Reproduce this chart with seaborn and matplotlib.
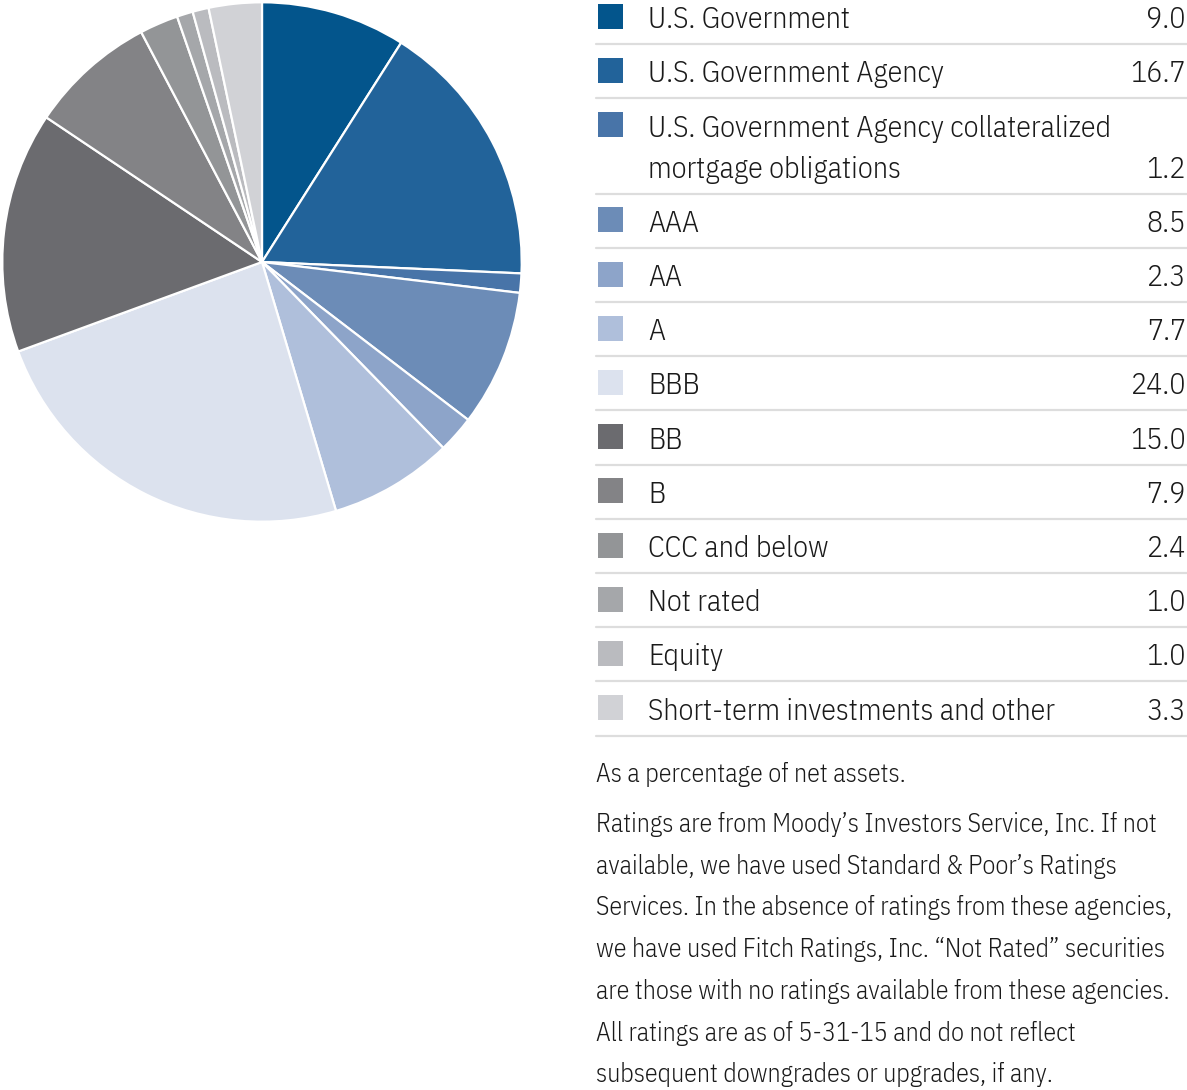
import matplotlib
matplotlib.use("Agg")

import matplotlib.pyplot as plt
import seaborn as sns
from matplotlib.lines import Line2D

# ── Data ────────────────────────────────────────────────────────────────────
LABELS = [
    "U.S. Government",
    "U.S. Government Agency",
    "U.S. Government Agency collateralized\nmortgage obligations",
    "AAA",
    "AA",
    "A",
    "BBB",
    "BB",
    "B",
    "CCC and below",
    "Not rated",
    "Equity",
    "Short-term investments and other",
]
VALUES = [9.0, 16.7, 1.2, 8.5, 2.3, 7.7, 24.0, 15.0, 7.9, 2.4, 1.0, 1.0, 3.3]
COLORS = ["#03558C", "#22639A", "#4874A8", "#6C8CB7", "#8DA4C9", "#AFBFDB",
          "#DCE2EE", "#6B6B6F", "#838386", "#939597", "#A5A7AA", "#BABBBF",
          "#D1D2D6"]

NOTE_1 = "As a percentage of net assets."
NOTE_2 = [
    "Ratings are from Moody\u2019s Investors Service, Inc. If not",
    "available, we have used Standard & Poor\u2019s Ratings",
    "Services. In the absence of ratings from these agencies,",
    "we have used Fitch Ratings, Inc. \u201cNot Rated\u201d securities",
    "are those with no ratings available from these agencies.",
    "All ratings are as of 5-31-15 and do not reflect",
    "subsequent downgrades or upgrades, if any.",
]

# ── Style ───────────────────────────────────────────────────────────────────
W, H = 1187, 1090
sns.set_style("white")
plt.rcParams["font.family"] = ["IBM Plex Sans Condensed", "DejaVu Sans"]
plt.rcParams["font.weight"] = 300
TEXT = "#1A1A1A"
RULE = "#DDDDDD"
LEG_FS = 21.6
NOTE_FS = 18.7

fig = plt.figure(figsize=(W / 100, H / 100), dpi=100)
fig.patch.set_facecolor("white")


def fx(x):
    return x / W


def fy(y):
    return 1 - y / H


# ── Pie ─────────────────────────────────────────────────────────────────────
ax = fig.add_axes([fx(1), fy(523), 522 / W, 522 / H])
ax.pie(VALUES, colors=COLORS, startangle=90, counterclock=False,
       wedgeprops=dict(edgecolor="white", linewidth=1.6))
ax.set_xlim(-1.005, 1.005)
ax.set_ylim(-1.005, 1.005)
ax.set_aspect("equal")
ax.axis("off")

# ── Legend table ────────────────────────────────────────────────────────────
y_line = -10
for label, val, col in zip(LABELS, VALUES, COLORS):
    n_lines = label.count("\n") + 1
    y_line += 54.2 + 41 * (n_lines - 1)
    last_center = y_line - 27
    first_center = last_center - 41 * (n_lines - 1)
    sw = 25
    fig.patches.append(plt.Rectangle((fx(598), fy(first_center + sw / 2 - 1)),
                                     sw / W, sw / H, transform=fig.transFigure,
                                     facecolor=col, edgecolor="none"))
    for i, part in enumerate(label.split("\n")):
        fig.text(fx(648), fy(first_center + 41 * i), part, fontsize=LEG_FS,
                 color=TEXT, va="center_baseline", ha="left")
    fig.text(fx(1186), fy(last_center), f"{val:.1f}", fontsize=LEG_FS,
             color=TEXT, va="center_baseline", ha="right")
    fig.add_artist(Line2D([fx(596), fx(1187)], [fy(y_line), fy(y_line)],
                          color=RULE, linewidth=1.6))

# ── Footnotes ───────────────────────────────────────────────────────────────
fig.text(fx(596), fy(772), NOTE_1, fontsize=NOTE_FS, color=TEXT,
         va="center_baseline", ha="left")
for i, line in enumerate(NOTE_2):
    fig.text(fx(596), fy(822 + 41.7 * i), line, fontsize=NOTE_FS, color=TEXT,
             va="center_baseline", ha="left")

fig.savefig("out.png", dpi=100, facecolor="white")
